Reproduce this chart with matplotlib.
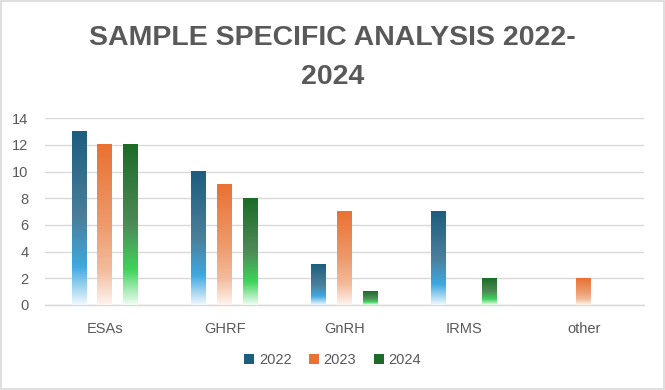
import numpy as np
import matplotlib
matplotlib.use("Agg")
import matplotlib.pyplot as plt
from matplotlib.colors import LinearSegmentedColormap
from matplotlib.patches import Rectangle, Patch

# data
categories = ['ESAs', 'GHRF', 'GnRH', 'IRMS', 'other']
years = ['2022', '2023', '2024']
v2022 = [13, 10, 3, 7, 0]
v2023 = [12, 9, 7, 0, 2]
v2024 = [12, 8, 1, 2, 0]
series = [v2022, v2023, v2024]

# gradient stops per series: top -> bottom
grad_stops = [
    [(0.0, '#1d5d7e'), (0.5, '#4b7f9b'), (0.78, '#3fa8e0'), (1.0, '#f2f8fd')],
    [(0.0, '#e97132'), (0.5, '#ee9a6b'), (0.78, '#f3bb9c'), (1.0, '#fdf4ef')],
    [(0.0, '#1c6b28'), (0.5, '#4e8b57'), (0.78, '#3ed35a'), (1.0, '#f1fcf2')],
]
top_colors = ['#1d5d7e', '#e97132', '#1c6b28']

text_col = '#595959'
grid_col = '#d9d9d9'
plt.rcParams['font.family'] = ['Liberation Sans', 'DejaVu Sans']

fig = plt.figure(figsize=(6.65, 3.9), dpi=100)
ax = fig.add_axes([0.0677, 0.218, 0.900, 0.479])

x = np.arange(len(categories))
width = 0.125
offset = 0.215
grad = np.linspace(0, 1, 256).reshape(-1, 1)

for i, vals in enumerate(series):
    cmap = LinearSegmentedColormap.from_list('g%d' % i, grad_stops[i])
    for xi, v in zip(x, vals):
        if v <= 0:
            continue
        x0 = xi + (i - 1) * offset - width / 2
        ax.imshow(grad, cmap=cmap, extent=[x0, x0 + width, 0, v],
                  aspect='auto', origin='upper', zorder=3, interpolation='bilinear')

ax.set_xlim(-0.5, len(categories) - 0.5)
ax.set_ylim(0, 14)
ax.set_yticks(range(0, 15, 2))
ax.set_xticks(x)
ax.set_xticklabels(categories)
ax.yaxis.grid(True, color=grid_col, lw=1.0, zorder=0)
ax.set_axisbelow(True)
for s in ['top', 'right', 'left']:
    ax.spines[s].set_visible(False)
ax.spines['bottom'].set_color(grid_col)
ax.spines['bottom'].set_linewidth(1.0)
ax.tick_params(axis='both', length=0, colors=text_col, labelsize=10.5)
ax.tick_params(axis='x', pad=12)
ax.tick_params(axis='y', pad=12)

# title wraps onto two lines in the original
fig.text(0.5, 0.902, 'SAMPLE SPECIFIC ANALYSIS 2022-', ha='center', va='center',
         fontsize=20.5, fontweight='bold', color=text_col)
fig.text(0.5, 0.802, '2024', ha='center', va='center',
         fontsize=20.5, fontweight='bold', color=text_col)

handles = [Patch(facecolor=c, edgecolor='none') for c in top_colors]
fig.legend(handles, years, loc='center', bbox_to_anchor=(0.5, 0.077), ncol=3,
           frameon=False, fontsize=10.5, labelcolor=text_col, handlelength=0.7,
           handleheight=0.7, handletextpad=0.3, columnspacing=1.2)

fig.add_artist(Rectangle((0.001, 0.002), 0.997, 0.996, transform=fig.transFigure,
                         fill=False, edgecolor=grid_col, lw=1.2))

fig.savefig('out.png', dpi=100)
